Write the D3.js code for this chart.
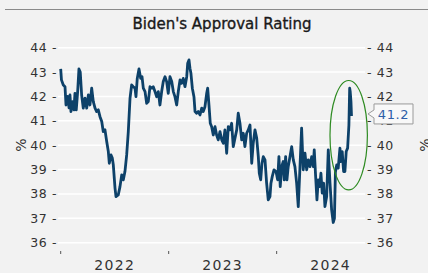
<!DOCTYPE html>
<html>
<head>
<meta charset="utf-8">
<script src="https://cdn.jsdelivr.net/npm/d3@7"></script>
<style>
  body { margin: 0; background: #f2f2f2; }
  svg { display: block; font-family: "DejaVu Sans", sans-serif; }
</style>
</head>
<body>
<svg id="chart"></svg>
<script>
// time as decimal years, approval in %
var yearFrac = [2022.000, 2022.007, 2022.024, 2022.040, 2022.049, 2022.065, 2022.077, 2022.086, 2022.095, 2022.111,
  2022.123, 2022.132, 2022.144, 2022.157, 2022.169, 2022.181, 2022.194, 2022.209, 2022.225, 2022.241,
  2022.256, 2022.271, 2022.287, 2022.302, 2022.318, 2022.333, 2022.348, 2022.364, 2022.380, 2022.394,
  2022.410, 2022.426, 2022.441, 2022.450, 2022.466, 2022.478, 2022.487, 2022.503, 2022.512, 2022.533,
  2022.549, 2022.565, 2022.580, 2022.595, 2022.611, 2022.626, 2022.642, 2022.657, 2022.672, 2022.688,
  2022.697, 2022.709, 2022.725, 2022.741, 2022.753, 2022.765, 2022.781, 2022.796, 2022.811, 2022.827,
  2022.843, 2022.857, 2022.873, 2022.889, 2022.904, 2022.919, 2022.935, 2022.950, 2022.966, 2022.981,
  2022.996, 2023.012, 2023.028, 2023.043, 2023.058, 2023.074, 2023.089, 2023.105, 2023.120, 2023.135,
  2023.151, 2023.167, 2023.176, 2023.188, 2023.197, 2023.206, 2023.219, 2023.234, 2023.244, 2023.259,
  2023.274, 2023.290, 2023.306, 2023.320, 2023.336, 2023.352, 2023.361, 2023.373, 2023.385, 2023.398,
  2023.413, 2023.429, 2023.444, 2023.459, 2023.475, 2023.491, 2023.506, 2023.521, 2023.537, 2023.552,
  2023.568, 2023.583, 2023.598, 2023.614, 2023.630, 2023.644, 2023.660, 2023.676, 2023.691, 2023.706,
  2023.722, 2023.737, 2023.753, 2023.769, 2023.783, 2023.799, 2023.815, 2023.830, 2023.839, 2023.852,
  2023.864, 2023.876, 2023.892, 2023.907, 2023.922, 2023.938, 2023.947, 2023.959, 2023.975, 2023.994,
  2024.009, 2024.021, 2024.033, 2024.046, 2024.061, 2024.070, 2024.083, 2024.095, 2024.107, 2024.123,
  2024.139, 2024.154, 2024.169, 2024.185, 2024.200, 2024.216, 2024.231, 2024.246, 2024.262, 2024.278,
  2024.293, 2024.308, 2024.324, 2024.339, 2024.348, 2024.361, 2024.373, 2024.385, 2024.398, 2024.410,
  2024.422, 2024.435, 2024.447, 2024.463, 2024.478, 2024.494, 2024.509, 2024.524, 2024.535, 2024.544,
  2024.556, 2024.570, 2024.586, 2024.595, 2024.607, 2024.620, 2024.632, 2024.644, 2024.657, 2024.669,
  2024.676, 2024.681, 2024.688, 2024.693];

var approval = [43.13, 42.68, 42.47, 42.40, 41.65, 42.00, 41.53, 42.06, 41.38, 41.79,
  41.45, 42.13, 41.45, 42.20, 43.13, 43.00, 42.06, 41.52, 41.93, 41.52,
  42.06, 41.65, 42.34, 41.79, 41.52, 41.38, 41.45, 41.17, 40.97, 40.56,
  40.63, 40.15, 39.74, 39.26, 39.60, 39.47, 39.20, 38.24, 37.89, 37.96,
  38.30, 38.78, 38.58, 38.92, 39.60, 40.56, 41.93, 42.47, 42.40, 42.34,
  41.99, 42.74, 43.13, 42.74, 42.81, 42.34, 42.20, 41.72, 41.79, 42.40,
  42.34, 42.40, 42.20, 41.99, 42.20, 41.65, 42.20, 42.61, 42.81, 42.61,
  42.13, 42.81, 42.61, 42.20, 41.99, 41.65, 42.20, 42.68, 42.54, 42.74,
  42.40, 42.81, 43.36, 43.50, 43.16, 42.95, 42.34, 41.99, 41.38, 41.31,
  41.38, 41.24, 41.52, 41.38, 41.58, 42.13, 42.34, 41.65, 40.90, 40.76,
  40.42, 40.76, 40.42, 40.22, 40.56, 40.22, 40.08, 40.63, 39.67, 40.76,
  40.63, 40.90, 39.94, 40.29, 40.63, 41.31, 40.90, 40.22, 40.49, 39.94,
  40.49, 40.63, 40.83, 39.26, 40.08, 40.63, 40.29, 39.53, 38.85, 38.58,
  39.26, 39.53, 39.40, 38.44, 37.76, 37.89, 38.44, 38.71, 38.99, 38.92,
  38.58, 39.53, 38.30, 39.12, 39.33, 38.58, 39.53, 38.58, 39.12, 39.53,
  39.94, 39.40, 39.12, 38.44, 37.48, 39.12, 40.70, 38.99, 39.67, 38.99,
  39.40, 39.12, 39.53, 39.12, 39.81, 38.71, 37.76, 38.58, 38.30, 38.85,
  38.03, 38.44, 37.48, 37.89, 39.81, 38.44, 37.35, 36.83, 37.00, 38.90,
  39.19, 39.06, 39.88, 39.33, 39.74, 38.92, 38.92, 39.74, 39.88, 40.83,
  42.34, 42.20, 41.79, 41.20];

var yTicks = [36, 37, 38, 39, 40, 41, 42, 43, 44];
var yearTicks = [2022, 2023, 2024];
var yearLabels = ["2022", "2023", "2024"];
var lastLabel = "41.2";

var width = 428, height = 273;
var svg = d3.select("#chart").attr("width", width).attr("height", height);

var x = d3.scaleLinear().domain([2021.975, 2024.818]).range([58, 365]);
var y = d3.scaleLinear().domain([36, 44]).range([242.7, 47.7]);

// top rule
svg.append("line").attr("x1", 5).attr("x2", width).attr("y1", 9.5).attr("y2", 9.5)
  .attr("stroke", "#8a8a8a").attr("stroke-width", 1);

svg.append("text").attr("x", 222).attr("y", 29).attr("text-anchor", "middle")
  .style("font-size", "15px").attr("fill", "#1a1a1a")
  .attr("stroke", "#1a1a1a").attr("stroke-width", 0.35)
  .text("Biden's Approval Rating");

// grid
svg.append("g").selectAll("line").data(yTicks).enter().append("line")
  .attr("x1", 58).attr("x2", 365)
  .attr("y1", function(d) { return y(d); }).attr("y2", function(d) { return y(d); })
  .attr("stroke", "#ffffff").attr("stroke-width", 1.5);

var left = svg.append("g").attr("transform", "translate(58,0)")
  .call(d3.axisLeft(y).tickValues(yTicks).tickSize(0).tickPadding(1).tickFormat(function(d) { return d + " -"; }));
var right = svg.append("g").attr("transform", "translate(366,0)")
  .call(d3.axisRight(y).tickValues(yTicks).tickSize(0).tickPadding(1).tickFormat(function(d) { return "- " + d; }));
[left, right].forEach(function(a) {
  a.select(".domain").remove();
  a.selectAll("text").style("font-size", "12.5px").style("letter-spacing", "0.6px")
    .attr("fill", "#333").attr("font-family", "DejaVu Sans");
});

// x ticks and year labels
svg.append("g").selectAll("line").data(yearTicks).enter().append("line")
  .attr("x1", function(d) { return x(d); }).attr("x2", function(d) { return x(d); })
  .attr("y1", 251).attr("y2", 254).attr("stroke", "#555").attr("stroke-width", 1);
svg.append("g").selectAll("text").data(yearTicks).enter().append("text")
  .attr("x", function(d) { return x(d + 0.5); }).attr("y", 269.5)
  .attr("text-anchor", "middle").style("font-size", "14px").style("letter-spacing", "1.3px")
  .attr("fill", "#333")
  .text(function(d, i) { return yearLabels[i]; });

// % labels
svg.append("text").attr("transform", "translate(26,145) rotate(-90)").attr("text-anchor", "middle")
  .style("font-size", "14px").attr("fill", "#333").text("%");
svg.append("text").attr("transform", "translate(430,145) rotate(-90)").attr("text-anchor", "middle")
  .style("font-size", "14px").attr("fill", "#333").text("%");

var data = yearFrac.map(function(t, i) { return {t: t, v: approval[i]}; });
var line = d3.line().x(function(d) { return x(d.t); }).y(function(d) { return y(d.v); });
svg.append("path").datum(data).attr("d", line).attr("fill", "none")
  .attr("stroke", "#0d4169").attr("stroke-width", 2.8).attr("stroke-linejoin", "round");

// highlight ellipse
svg.append("ellipse").attr("cx", x(2024.667)).attr("cy", y(40.41)).attr("rx", 18.7).attr("ry", 54.7)
  .attr("fill", "none").attr("stroke", "#2e8b22").attr("stroke-width", 1.2);

// last value callout
var ly = y(approval[approval.length - 1]) - 2;
var bx = 374;
svg.append("path")
  .attr("d", "M" + bx + "," + (ly - 10) + "H" + (bx + 39) + "V" + (ly + 10) + "H" + bx +
    "V" + (ly + 4) + "L" + (bx - 6) + "," + ly + "L" + bx + "," + (ly - 4) + "Z")
  .attr("fill", "#f8f8f8").attr("stroke", "#9a9a9a").attr("stroke-width", 1);
svg.append("text").attr("x", bx + 19.5).attr("y", ly + 5).attr("text-anchor", "middle")
  .style("font-size", "13px").style("letter-spacing", "0.6px").attr("fill", "#2f5fa8").text(lastLabel);
</script>
</body>
</html>
